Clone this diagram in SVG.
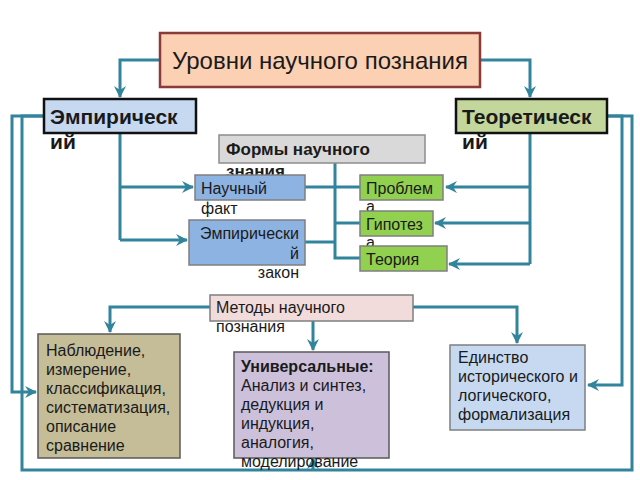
<svg xmlns="http://www.w3.org/2000/svg" width="640" height="480" viewBox="0 0 640 480">
<defs>
<marker id="ah" viewBox="0 0 12 12" refX="11" refY="6" markerWidth="12" markerHeight="12" markerUnits="userSpaceOnUse" orient="auto">
<path d="M0,0 L12,6 L0,12 L4,6 Z" fill="#31849b"/>
</marker>
<style>
text{font-family:"Liberation Sans",Arial,sans-serif;fill:#1a1a1a}
.c{fill:none;stroke:#31849b;stroke-width:3}
.a{marker-end:url(#ah)}
.b{font-weight:bold}
.m{font-size:16px}
.h{font-size:21px;font-weight:bold}
</style>
</defs>
<rect width="640" height="480" fill="#ffffff"/>
<g id="connectors">
<path class="c a" d="M160,60 H120 V97"/>
<path class="c a" d="M480,60 H530 V97"/>
<path class="c" d="M120,133 V240"/>
<path class="c a" d="M120,187 H193"/>
<path class="c a" d="M120,240 H187"/>
<path class="c" d="M530,133 V264"/>
<path class="c a" d="M530,187 H446"/>
<path class="c a" d="M530,223 H435"/>
<path class="c a" d="M530,264 H449"/>
<path class="c" d="M335,163 V258 H360"/>
<path class="c" d="M305,187 H360"/>
<path class="c" d="M305,242 H335"/>
<path class="c" d="M335,223 H360"/>
<path class="c a" d="M210,307 H110 V332"/>
<path class="c a" d="M313,321 V350"/>
<path class="c a" d="M413,307 H517 V343"/>
<path class="c a" d="M44,116 H12 V392 H36"/>
<path class="c" d="M44,116 H22 V470 H632 V116 H607"/>
<path class="c a" d="M607,116 H622 V385 H588"/>
<path class="c a" d="M313,470 V458"/>
</g>
<g id="title">
<rect x="160" y="33" width="320" height="54" fill="#fbd0b3" stroke="#8b3a3a" stroke-width="2.5"/>
<text x="320" y="69" font-size="24" text-anchor="middle">Уровни научного познания</text>
</g>
<g id="empirical">
<rect x="44" y="99" width="152" height="34" fill="#c6d9f1" stroke="#111" stroke-width="2.5"/>
<text class="h" x="50" y="124">Эмпирическ</text>
<text class="h" x="50" y="149">ий</text>
</g>
<g id="theoretical">
<rect x="456" y="99" width="151" height="34" fill="#c3d69b" stroke="#111" stroke-width="2.5"/>
<text class="h" x="462" y="124">Теоретическ</text>
<text class="h" x="462" y="149">ий</text>
</g>
<g id="forms">
<rect x="219" y="135" width="206" height="28" fill="#d9d9d9" stroke="#8c8c8c" stroke-width="1.5"/>
<text class="b" x="226" y="155" font-size="17">Формы научного</text>
<text class="b" x="226" y="177" font-size="17">знания</text>
</g>
<g id="fact">
<rect x="195" y="175" width="110" height="25" fill="#8db3e2" stroke="#7f7f7f" stroke-width="1.5"/>
<text class="m" x="201" y="194">Научный</text>
<text class="m" x="201" y="214">факт</text>
</g>
<g id="law">
<rect x="189" y="220" width="116" height="45" fill="#8db3e2" stroke="#7f7f7f" stroke-width="1.5"/>
<text class="m" x="299" y="239" text-anchor="end">Эмпирически</text>
<text class="m" x="299" y="259" text-anchor="end">й</text>
<text class="m" x="299" y="278" text-anchor="end">закон</text>
</g>
<g id="problem">
<rect x="360" y="175" width="83" height="25" fill="#92d050" stroke="#7f7f7f" stroke-width="1.5"/>
<text class="m" x="366" y="194">Проблем</text>
<text class="m" x="366" y="212">а</text>
</g>
<g id="hypothesis">
<rect x="360" y="211" width="73" height="25" fill="#92d050" stroke="#7f7f7f" stroke-width="1.5"/>
<text class="m" x="366" y="230">Гипотез</text>
<text class="m" x="366" y="248">а</text>
</g>
<g id="theory">
<rect x="360" y="246" width="87" height="25" fill="#92d050" stroke="#7f7f7f" stroke-width="1.5"/>
<text class="m" x="366" y="265">Теория</text>
</g>
<g id="methods">
<rect x="210" y="295" width="203" height="26" fill="#f2dcdb" stroke="#7f7f7f" stroke-width="1.5"/>
<text class="m" x="216" y="313">Методы научного</text>
<text class="m" x="216" y="332">познания</text>
</g>
<g id="observation">
<rect x="38" y="334" width="142" height="124" fill="#c4bd97" stroke="#595959" stroke-width="1.5"/>
<text class="m" x="46" y="356">Наблюдение,</text>
<text class="m" x="46" y="375">измерение,</text>
<text class="m" x="46" y="394">классификация,</text>
<text class="m" x="46" y="413">систематизация,</text>
<text class="m" x="46" y="432">описание</text>
<text class="m" x="46" y="451">сравнение</text>
</g>
<g id="universal">
<rect x="234" y="352" width="155" height="106" fill="#ccc0da" stroke="#595959" stroke-width="1.5"/>
<text class="m b" x="241" y="372">Универсальные:</text>
<text class="m" x="241" y="391">Анализ и синтез,</text>
<text class="m" x="241" y="410">дедукция и</text>
<text class="m" x="241" y="429">индукция,</text>
<text class="m" x="241" y="448">аналогия,</text>
<text class="m" x="241" y="467">моделирование</text>
</g>
<g id="unity">
<rect x="450" y="345" width="135" height="85" fill="#c6d9f1" stroke="#7f7f7f" stroke-width="1.5"/>
<text class="m" x="458" y="363">Единство</text>
<text class="m" x="458" y="382">исторического и</text>
<text class="m" x="458" y="401">логического,</text>
<text class="m" x="458" y="420">формализация</text>
</g>
</svg>
